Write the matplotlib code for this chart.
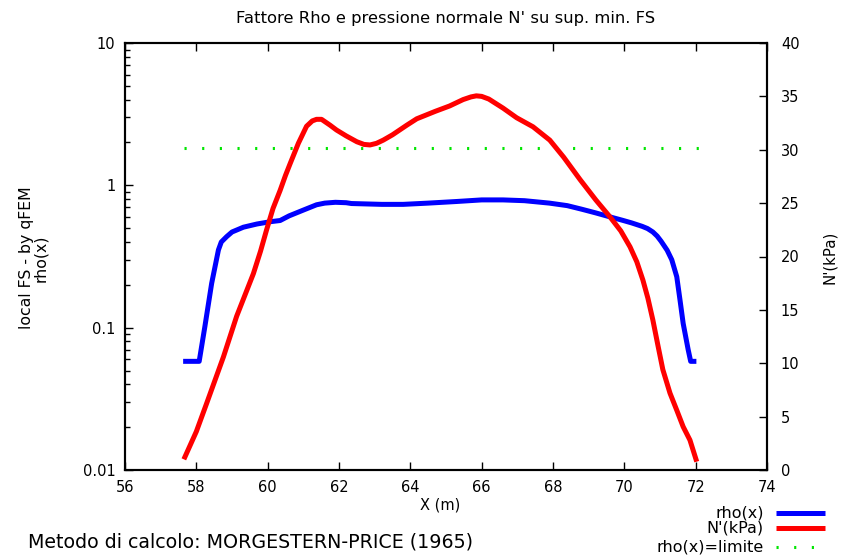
import matplotlib
matplotlib.use("Agg")
import matplotlib.pyplot as plt
from matplotlib.lines import Line2D
from matplotlib.ticker import FixedLocator, FixedFormatter, LogLocator, NullFormatter

plt.rcParams['font.family'] = ['DejaVu Sans']

# ---- data ----
rho_x = [57.63, 58.08, 58.24, 58.43, 58.62, 58.7, 58.85, 59.0, 59.32, 59.7,
         60.07, 60.35, 60.6, 61.0, 61.37, 61.6, 61.9, 62.2, 62.35, 63.2,
         63.8, 64.5, 65.3, 66.0, 66.6, 67.2, 67.9, 68.4, 68.8, 69.2,
         69.6, 69.95, 70.2, 70.5, 70.65, 70.8, 70.92, 71.03, 71.12, 71.2, 71.33,
         71.47, 71.56, 71.65, 71.79, 71.86, 72.02]
rho_y = [0.058, 0.058, 0.102, 0.205, 0.352, 0.40, 0.436, 0.47, 0.508, 0.535,
         0.555, 0.566, 0.61, 0.67, 0.73, 0.75, 0.76, 0.755, 0.745, 0.735,
         0.735, 0.75, 0.77, 0.79, 0.79, 0.78, 0.75, 0.72, 0.68, 0.64,
         0.60, 0.568, 0.545, 0.515, 0.497, 0.47, 0.44, 0.405, 0.375, 0.35, 0.30,
         0.228, 0.157, 0.107, 0.070, 0.058, 0.058]

n_x = [57.65, 58.0, 58.29, 58.76, 59.13, 59.6, 59.8, 59.97, 60.15, 60.35,
       60.5, 60.63, 60.86, 61.09, 61.25, 61.37, 61.51, 61.75, 61.93, 62.2,
       62.5, 62.7, 62.87, 63.05, 63.24, 63.5, 63.9, 64.18, 64.7, 65.1,
       65.48, 65.7, 65.85, 66.0, 66.2, 66.6, 66.98, 67.44, 67.91, 68.3,
       68.76, 69.2, 69.6, 69.9, 70.16, 70.35, 70.52, 70.66, 70.8, 70.94,
       71.08, 71.28, 71.47, 71.65, 71.84, 72.03]
n_y = [1.0, 3.6, 6.25, 10.6, 14.4, 18.4, 20.5, 22.5, 24.5, 26.2,
       27.6, 28.7, 30.6, 32.2, 32.7, 32.85, 32.85, 32.3, 31.85, 31.3,
       30.75, 30.5, 30.45, 30.6, 30.9, 31.4, 32.3, 32.9, 33.6, 34.1,
       34.7, 34.95, 35.05, 35.0, 34.75, 33.9, 33.0, 32.15, 30.9, 29.3,
       27.2, 25.3, 23.7, 22.4, 20.9, 19.5, 17.8, 16.1, 14.05, 11.7,
       9.4, 7.2, 5.6, 4.05, 2.8, 0.78]

lim_x = [57.65, 72.1]
lim_y = [1.82, 1.82]

x_ticks = [56, 58, 60, 62, 64, 66, 68, 70, 72, 74]
y_ticks = [0.01, 0.1, 1, 10]
y_labels = ["0.01", "0.1", "1", "10"]
n_ticks = [0, 5, 10, 15, 20, 25, 30, 35, 40]

BLUE = "#0000ff"
RED = "#ff0000"
GREEN = "#00e600"
DOTS = (0, (0.7, 5.08))

W, H = 843, 560
fig = plt.figure(figsize=(W / 100, H / 100), dpi=100)
ax = fig.add_axes([125 / W, 90 / H, 642 / W, 427 / H])
ax.set_yscale('log')
ax.set_xlim(56, 74)
ax.set_ylim(0.01, 10)

ax.plot(lim_x, lim_y, color=GREEN, lw=2.2, linestyle=DOTS, zorder=2)
ax.plot(rho_x, rho_y, color=BLUE, lw=3.6, solid_joinstyle='round',
        solid_capstyle='butt', zorder=3)

ax.xaxis.set_major_locator(FixedLocator(x_ticks))
ax.yaxis.set_major_locator(FixedLocator(y_ticks))
ax.yaxis.set_major_formatter(FixedFormatter(y_labels))
ax.yaxis.set_minor_locator(LogLocator(base=10, subs=range(2, 10)))
ax.yaxis.set_minor_formatter(NullFormatter())
ax.tick_params(axis='x', which='major', direction='in', length=6, width=1,
               top=True, bottom=True, labelsize=10.5, pad=7, colors='black')
ax.tick_params(axis='y', which='major', direction='in', length=6, width=1,
               left=True, right=False, labelsize=10.5, pad=7)
ax.tick_params(axis='y', which='minor', direction='in', length=3.5, width=1,
               left=True, right=False)
for s in ax.spines.values():
    s.set_linewidth(1.5)

ax2 = ax.twinx()
ax2.set_ylim(0, 40)
ax2.plot(n_x, n_y, color=RED, lw=3.6, solid_joinstyle='round',
         solid_capstyle='butt', zorder=3)
ax2.yaxis.set_major_locator(FixedLocator(n_ticks))
ax2.tick_params(axis='y', direction='in', length=6, width=1, labelsize=10.5, pad=10)
for s in ax2.spines.values():
    s.set_linewidth(1.5)

fig.text(446 / W, 1 - 18 / H, "Fattore Rho e pressione normale N' su sup. min. FS",
         ha='center', va='center', fontsize=11.8)
fig.text(440 / W, 1 - 505 / H, "X (m)", ha='center', va='center', fontsize=10.5)
fig.text(26 / W, 1 - 258 / H, "local FS - by qFEM", rotation=90,
         ha='center', va='center', fontsize=11.3)
fig.text(41 / W, 1 - 258 / H, "rho(x)", rotation=90,
         ha='center', va='center', fontsize=11.3)
fig.text(830 / W, 1 - 257 / H, "N'(kPa)", rotation=90,
         ha='center', va='center', fontsize=10.8)
fig.text(28 / W, 1 - 542 / H, "Metodo di calcolo: MORGESTERN-PRICE (1965)",
         ha='left', va='center', fontsize=13.7)

# legend (manual)
leg = [("rho(x)", BLUE, '-', 3.6, 513),
       ("N'(kPa)", RED, '-', 3.6, 528),
       ("rho(x)=limite", GREEN, DOTS, 2.2, 547)]
for lab, col, ls, lw, yy in leg:
    fig.text(764 / W, 1 - yy / H, lab, ha='right', va='center', fontsize=11.5)
    fig.add_artist(Line2D([776 / W, 825 / W], [1 - yy / H, 1 - yy / H],
                          color=col, lw=lw, linestyle=ls, solid_capstyle='butt',
                          transform=fig.transFigure))

fig.savefig("out.png", dpi=100)
